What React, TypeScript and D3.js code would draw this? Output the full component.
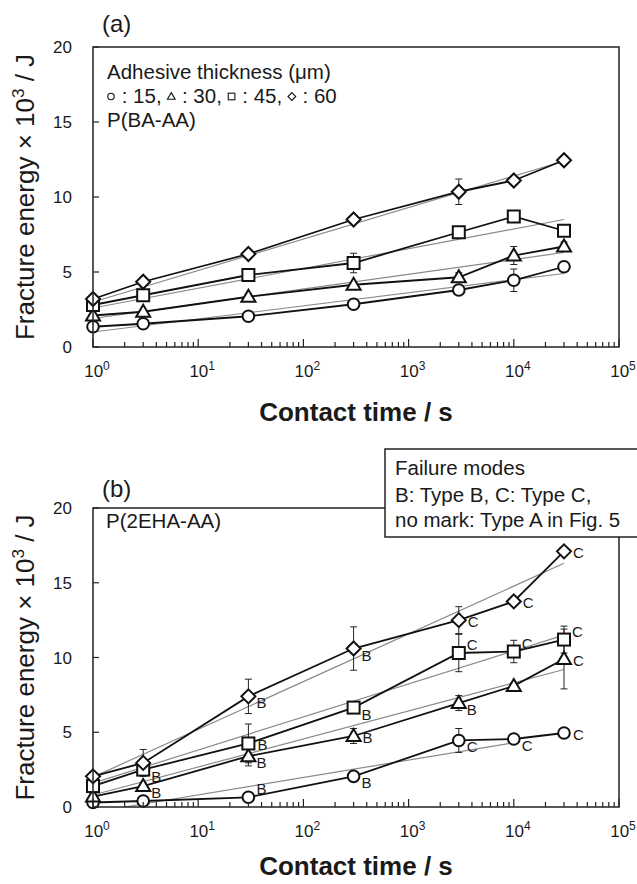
import React from 'react'
import * as d3 from 'd3'

// contact times (s), same for both panels
const contactTimes = [1, 3, 30, 300, 3000, 10000, 30000]
const thicknesses = [15, 30, 45, 60]
const shapeNames = ['circle', 'triangle', 'square', 'diamond']
const decadeLabels = [0, 1, 2, 3, 4, 5]
const energyTicks = [0, 5, 10, 15, 20]

// (a) P(BA-AA), fracture energy x 10^3 / J
const ba15 = [1.35, 1.55, 2.05, 2.85, 3.8, 4.45, 5.35]
const ba30 = [2.1, 2.35, 3.35, 4.15, 4.65, 6.1, 6.7]
const ba45 = [2.8, 3.45, 4.8, 5.6, 7.65, 8.7, 7.75]
const ba60 = [3.2, 4.35, 6.2, 8.5, 10.35, 11.1, 12.45]
const baErr15 = [0.1, 0.1, 0.1, 0.2, 0.2, 0.75, 0.2]
const baErr30 = [0.1, 0.1, 0.2, 0.2, 0.3, 0.6, 0.3]
const baErr45 = [0.1, 0.1, 0.2, 0.65, 0.2, 0.2, 0.2]
const baErr60 = [0.1, 0.1, 0.1, 0.2, 0.85, 0.2, 0.2]
// fitted lines, [time, energy] at both ends
const baFit15 = [[1, 1.0], [30000, 4.9]]
const baFit30 = [[1, 1.9], [30000, 6.3]]
const baFit45 = [[1, 2.6], [30000, 8.5]]
const baFit60 = [[1, 3.0], [30000, 12.4]]

// (b) P(2EHA-AA)
const eha15 = [0.3, 0.4, 0.65, 2.05, 4.45, 4.55, 4.95]
const eha30 = [0.7, 1.4, 3.4, 4.75, 6.95, 8.1, 9.9]
const eha45 = [1.4, 2.5, 4.25, 6.65, 10.3, 10.4, 11.2]
const eha60 = [2.05, 2.95, 7.4, 10.6, 12.5, 13.75, 17.1]
const ehaErr15 = [0.1, 0.1, 0.1, 0.2, 0.8, 0.2, 0.2]
const ehaErr30 = [0.1, 0.2, 0.65, 0.5, 0.5, 0.2, 2.0]
const ehaErr45 = [0.2, 0.3, 1.3, 0.2, 1.25, 0.75, 0.9]
const ehaErr60 = [0.2, 0.9, 1.15, 1.45, 0.9, 0.2, 0.2]
const ehaFit15 = [[2, 0.0], [10000, 4.3]]
const ehaFit30 = [[1, 0.8], [30000, 9.2]]
const ehaFit45 = [[1, 1.6], [30000, 11.5]]
const ehaFit60 = [[1, 2.0], [30000, 16.3]]
// failure mode marks
const ehaMode15 = ['', '', 'B', 'B', 'C', 'C', 'C']
const ehaMode30 = ['', 'B', 'B', 'B', 'B', '', 'C']
const ehaMode45 = ['', 'B', 'B', 'B', 'C', 'C', 'C']
const ehaMode60 = ['', '', 'B', 'B', 'C', 'C', 'C']
// which side of the point each mark sits on
const ehaPlace15 = ['', '', 'ur', 'lr', 'lr', 'lr', 'r']
const ehaPlace30 = ['', 'lr', 'lr', 'r', 'lr', '', 'r']
const ehaPlace45 = ['', 'lr', 'r', 'lr', 'ur', 'ur', 'ur']
const ehaPlace60 = ['', '', 'lr', 'lr', 'r', 'r', 'r']

const FONT = '"Liberation Sans", Arial, Helvetica, sans-serif'
const INK = '#1a1a1a'
const plotLeft = 93, plotRight = 619
const legendSize = 20.5

const xScale = d3.scaleLog().domain([1, 1e5]).range([plotLeft, plotRight])

const placeOffset = {
  lr: [8, 12],
  r: [9, 7],
  ur: [8, -3],
}

let ctx = null
function textWidth(s, size) {
  if (!ctx) ctx = document.createElement('canvas').getContext('2d')
  ctx.font = `${size}px "Liberation Sans", Arial, sans-serif`
  return ctx.measureText(s).width
}

function Marker({shape, x, y, r = 6, sw = 2}) {
  const st = {fill: '#fff', stroke: '#111', strokeWidth: sw}
  if (shape === 'circle') return <circle cx={x} cy={y} r={r * 0.97} {...st} />
  if (shape === 'square') return <rect x={x - r} y={y - r} width={2 * r} height={2 * r} {...st} />
  if (shape === 'triangle')
    return <path d={`M${x},${y - r * 1.17}L${x + r * 1.17},${y + r * 0.83}L${x - r * 1.17},${y + r * 0.83}Z`} {...st} />
  return <path d={`M${x},${y - r * 1.17}L${x + r * 1.17},${y}L${x},${y + r * 1.17}L${x - r * 1.17},${y}Z`} {...st} />
}

function Panel({top, bottom, series, letter, letterY, titleY}) {
  const y = d3.scaleLinear().domain([0, 20]).range([bottom, top])
  const line = d3.line().x((_, i) => xScale(contactTimes[i])).y(v => y(v))
  const xt = xScale.ticks()
  const midY = (top + bottom) / 2

  return (
    <g>
      {/* fitted lines */}
      {series.map((s, k) => (
        <line key={'f' + k}
          x1={xScale(s.fit[0][0])} y1={y(s.fit[0][1])}
          x2={xScale(s.fit[1][0])} y2={y(s.fit[1][1])}
          stroke="#8a8a8a" strokeWidth={1.2} />
      ))}
      {/* data lines */}
      {series.map((s, k) => (
        <path key={'l' + k} d={line(s.values)} fill="none" stroke="#111" strokeWidth={1.8} />
      ))}
      {/* error bars */}
      {series.map((s, k) => s.values.map((v, i) => {
        const cx = xScale(contactTimes[i])
        const e = s.errors[i]
        return (
          <g key={'e' + k + '-' + i} stroke="#222" strokeWidth={1}>
            <line x1={cx} x2={cx} y1={y(v + e)} y2={y(v - e)} />
            <line x1={cx - 3.5} x2={cx + 3.5} y1={y(v + e)} y2={y(v + e)} />
            <line x1={cx - 3.5} x2={cx + 3.5} y1={y(v - e)} y2={y(v - e)} />
          </g>
        )
      }))}
      {/* markers */}
      {series.map((s, k) => s.values.map((v, i) => (
        <Marker key={'m' + k + '-' + i} shape={s.shape} x={xScale(contactTimes[i])} y={y(v)} />
      )))}
      {/* failure mode marks */}
      {series.map((s, k) => s.modes ? s.modes.map((m, i) => {
        if (!m) return null
        const off = placeOffset[s.places[i]]
        return (
          <text key={'t' + k + '-' + i}
            x={xScale(contactTimes[i]) + off[0]} y={y(s.values[i]) + off[1]}
            fontSize={15} fontFamily={FONT} fill={INK}>{m}</text>
        )
      }) : null)}

      {/* frame */}
      <rect x={plotLeft} y={top} width={plotRight - plotLeft} height={bottom - top}
        fill="none" stroke="#222" strokeWidth={1.5} />
      {/* x ticks */}
      {xt.map((t, i) => {
        const major = Math.abs(Math.log10(t) - Math.round(Math.log10(t))) < 1e-9
        return (
          <line key={'xt' + i} x1={xScale(t)} x2={xScale(t)} y1={bottom} y2={bottom - (major ? 8 : 5)}
            stroke="#222" strokeWidth={1.2} />
        )
      })}
      {decadeLabels.map(p => (
        <text key={'xl' + p} x={xScale(10 ** p) + 4} y={bottom + 30} textAnchor="middle"
          fontSize={17} fontFamily={FONT} fill={INK}>
          10<tspan dy={-7} fontSize={12}>{p}</tspan>
        </text>
      ))}
      {/* y ticks */}
      {energyTicks.map(v => (
        <g key={'yt' + v}>
          <line x1={plotLeft} x2={plotLeft + 6} y1={y(v)} y2={y(v)} stroke="#222" strokeWidth={1.2} />
          <text x={72} y={y(v)} dy="0.36em" textAnchor="end" fontSize={17} fontFamily={FONT} fill={INK}>{v}</text>
        </g>
      ))}
      <text transform={`translate(34,${midY}) rotate(-90)`} textAnchor="middle"
        fontSize={26} fontFamily={FONT} fill={INK}>
        Fracture energy × 10<tspan dy={-10} fontSize={17}>3</tspan><tspan dy={10}> / J</tspan>
      </text>
      <text x={(plotLeft + plotRight) / 2} y={titleY} textAnchor="middle"
        fontSize={26} fontWeight="bold" fontFamily={FONT} fill={INK}>Contact time / s</text>
      <text x={102} y={letterY} fontSize={24} fontFamily={FONT} fill={INK}>{letter}</text>
    </g>
  )
}

function build(vals, errs, fits, modes, places) {
  return vals.map((v, k) => ({
    shape: shapeNames[k],
    values: v,
    errors: errs[k],
    fit: fits[k],
    modes: modes ? modes[k] : null,
    places: places ? places[k] : null,
  }))
}

function ThicknessKey({x, y}) {
  // small hollow symbol, then " : 15, " and so on
  let cur = x
  const items = thicknesses.map((t, i) => {
    const label = ` : ${t}${i < thicknesses.length - 1 ? ', ' : ''}`
    const sx = cur + 4
    cur += 9
    const tx = cur
    cur += textWidth(label, legendSize)
    return (
      <g key={t}>
        <Marker shape={shapeNames[i]} x={sx} y={y - 6.5} r={3.3} sw={1.1} />
        <text x={tx} y={y} xmlSpace="preserve" style={{whiteSpace: 'pre'}}>{label}</text>
      </g>
    )
  })
  return <g>{items}</g>
}

export default function App() {
  const seriesA = build([ba15, ba30, ba45, ba60], [baErr15, baErr30, baErr45, baErr60],
    [baFit15, baFit30, baFit45, baFit60])
  const seriesB = build([eha15, eha30, eha45, eha60], [ehaErr15, ehaErr30, ehaErr45, ehaErr60],
    [ehaFit15, ehaFit30, ehaFit45, ehaFit60],
    [ehaMode15, ehaMode30, ehaMode45, ehaMode60],
    [ehaPlace15, ehaPlace30, ehaPlace45, ehaPlace60])

  return (
    <svg width={637} height={884} style={{position: 'absolute', left: 0, top: 0, background: '#fff'}}>
      <rect width={637} height={884} fill="#fff" />
      <Panel top={47} bottom={347} series={seriesA} letter="(a)" letterY={32} titleY={421} />
      <Panel top={508} bottom={807} series={seriesB} letter="(b)" letterY={497} titleY={875} />

      {/* legend of panel (a) */}
      <g fontFamily={FONT} fontSize={legendSize} fill={INK}>
        <text x={107} y={79}>Adhesive thickness (μm)</text>
        <ThicknessKey x={107} y={103} />
        <text x={107} y={127}>P(BA-AA)</text>
        <text x={106} y={528}>P(2EHA-AA)</text>
      </g>

      {/* failure mode box of panel (b) */}
      <rect x={385} y={449} width={270} height={88} fill="#fff" stroke="#222" strokeWidth={1.5} />
      <g fontFamily={FONT} fontSize={legendSize} fill={INK}>
        <text x={395} y={475}>Failure modes</text>
        <text x={395} y={502}>B: Type B, C: Type C,</text>
        <text x={395} y={527}>no mark: Type A in Fig. 5</text>
      </g>
    </svg>
  )
}
